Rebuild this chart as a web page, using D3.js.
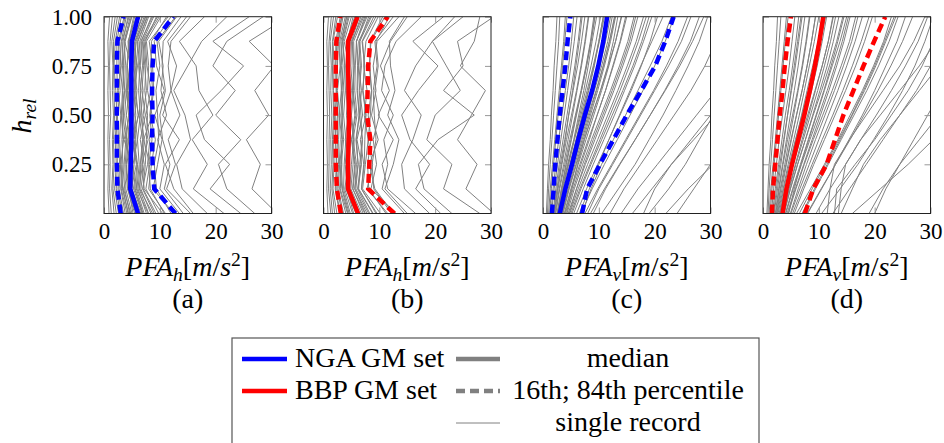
<!DOCTYPE html>
<html>
<head>
<meta charset="utf-8">
<script src="https://cdn.jsdelivr.net/npm/d3@7"></script>
<style>
  body { margin: 0; background: #fff; }
</style>
</head>
<body>
<div id="chart"></div>
<script>
// relative heights of the floors (y values of every line)
var heights = [0, 0.125, 0.25, 0.375, 0.5, 0.625, 0.75, 0.875, 1];

var xTicks = [0, 10, 20, 30];
var yTicks = [0.25, 0.5, 0.75, 1];
var panelLabels = ["(a)", "(b)", "(c)", "(d)"];
var axisSubs = ["h", "h", "v", "v"];

// (a) NGA horizontal
var medianA = [6.1, 4.7, 4.8, 4.9, 4.9, 4.9, 4.9, 5.0, 6.1];
var p16A = [3.0, 2.4, 2.3, 2.3, 2.3, 2.3, 2.3, 2.4, 3.5];
var p84A = [12.8, 9.0, 8.7, 8.6, 8.7, 8.6, 8.7, 9.0, 12.4];
var recordsA = [
  [5.5, 4.2, 4.5, 4.0, 4.4, 4.1, 4.6, 4.3, 5.8],
  [3.2, 2.5, 2.8, 2.6, 2.4, 2.9, 2.7, 2.6, 3.6],
  [7.0, 5.6, 5.2, 6.0, 5.5, 5.9, 5.3, 5.8, 7.4],
  [9.8, 7.5, 8.2, 7.1, 8.6, 7.8, 8.0, 7.6, 10.2],
  [4.4, 3.3, 3.6, 3.9, 3.4, 3.7, 3.5, 3.8, 4.9],
  [12.5, 8.8, 9.6, 10.4, 9.1, 10.8, 9.4, 9.0, 12.0],
  [6.3, 4.9, 5.8, 5.1, 6.2, 5.4, 6.0, 5.2, 6.8],
  [2.6, 1.9, 2.2, 2.0, 2.3, 2.1, 1.8, 2.0, 2.8],
  [8.4, 6.6, 7.2, 6.5, 7.4, 6.8, 7.1, 6.9, 8.9],
  [15.5, 11.2, 12.8, 11.5, 13.6, 12.0, 13.0, 11.4, 14.8],
  [5.0, 3.9, 4.1, 4.7, 4.0, 4.5, 4.2, 4.4, 5.3],
  [11.0, 8.0, 8.5, 9.2, 8.3, 8.9, 8.7, 8.1, 11.5],
  [3.8, 3.0, 3.2, 3.4, 3.1, 3.3, 2.9, 3.1, 4.0],
  [7.6, 6.1, 6.5, 6.9, 6.3, 6.6, 6.2, 6.4, 8.0],
  [21.5, 16.0, 18.5, 15.8, 19.5, 17.0, 16.5, 13.5, 18.0],
  [27.0, 22.0, 20.5, 24.5, 20.0, 23.5, 19.5, 22.0, 28.5],
  [31.0, 26.5, 28.0, 25.5, 29.5, 27.0, 30.5, 26.0, 33.0],
  [18.5, 14.0, 13.0, 15.5, 14.5, 12.5, 15.0, 17.5, 22.0],
  [10.5, 7.2, 6.8, 7.9, 7.0, 7.6, 7.3, 7.0, 9.6],
  [4.8, 3.5, 4.9, 3.6, 4.6, 3.9, 4.8, 3.7, 5.0],
  [6.8, 5.3, 4.7, 5.6, 4.9, 5.5, 5.0, 5.5, 7.2],
  [1.8, 1.4, 1.6, 1.5, 1.7, 1.5, 1.6, 1.4, 2.0],
  [13.5, 10.0, 10.8, 9.6, 11.2, 10.2, 10.6, 9.8, 13.0],
  [9.0, 6.9, 7.8, 8.2, 7.5, 8.4, 7.7, 7.4, 9.4],
  [24.5, 19.0, 22.5, 18.0, 16.5, 21.0, 25.0, 19.5, 26.0],
  [16.0, 12.5, 11.0, 13.5, 10.5, 12.0, 11.5, 12.0, 15.5],
  [0.9, 0.7, 0.8, 0.7, 0.8, 0.7, 0.8, 0.7, 1.0],
  [5.9, 4.5, 5.1, 4.3, 5.3, 4.6, 5.4, 4.7, 6.4],
  [4.1, 3.1, 3.4, 3.2, 3.5, 3.3, 3.6, 3.2, 4.5],
  [5.2, 4.4, 4.0, 4.3, 4.7, 4.2, 4.1, 4.5, 5.5],
  [6.6, 5.0, 5.4, 5.7, 5.2, 5.6, 5.5, 5.3, 6.9],
  [7.2, 5.8, 6.0, 5.4, 6.1, 5.7, 5.8, 6.1, 7.8],
  [8.0, 6.3, 6.9, 7.2, 6.6, 7.0, 6.5, 6.7, 8.5],
  [9.3, 7.0, 7.4, 7.6, 7.8, 7.3, 7.5, 7.2, 9.9],
  [3.5, 2.7, 3.0, 2.8, 3.0, 2.6, 3.1, 2.8, 3.8],
  [2.9, 2.2, 2.4, 2.3, 2.2, 2.4, 2.3, 2.3, 3.1],
  [4.6, 3.7, 3.8, 4.1, 3.7, 4.0, 3.9, 3.6, 4.7],
  [5.7, 4.3, 4.8, 4.4, 4.8, 4.3, 4.7, 4.5, 6.1],
  [6.0, 4.6, 4.4, 5.0, 4.5, 5.1, 4.6, 4.9, 6.3],
  [8.7, 6.4, 6.6, 7.0, 6.8, 6.5, 6.9, 6.6, 8.7],
  [10.8, 8.3, 8.0, 8.6, 8.2, 8.7, 8.4, 8.5, 11.2],
  [2.2, 1.6, 1.8, 1.7, 1.9, 1.8, 1.7, 1.7, 2.4],
  [1.3, 1.0, 1.1, 1.0, 1.2, 1.1, 1.0, 1.1, 1.5],
  [7.9, 5.9, 6.3, 6.0, 6.5, 6.2, 6.4, 6.0, 7.7],
  [12.0, 9.4, 9.0, 9.8, 9.6, 9.3, 10.0, 9.5, 12.8],
  [4.3, 3.4, 3.0, 3.5, 3.2, 3.6, 3.3, 3.4, 4.3],
  [14.2, 10.8, 11.8, 10.5, 10.0, 11.0, 10.4, 10.6, 13.8],
  [6.9, 5.5, 5.9, 5.2, 5.7, 5.3, 5.7, 5.6, 7.5]
];

// (b) BBP horizontal
var medianB = [6.2, 4.4, 4.4, 4.5, 4.6, 4.5, 4.4, 4.4, 6.1];
var p16B = [3.1, 2.4, 2.2, 2.2, 2.2, 2.2, 2.2, 2.3, 3.0];
var p84B = [12.7, 8.0, 8.2, 8.4, 7.8, 7.9, 8.0, 8.4, 11.5];
var recordsB = [
  [5.8, 4.0, 4.3, 4.6, 4.1, 4.4, 4.2, 4.1, 5.6],
  [3.4, 2.4, 2.7, 2.5, 2.6, 2.3, 2.5, 2.6, 3.3],
  [7.4, 5.2, 5.6, 5.0, 5.8, 5.3, 5.5, 5.1, 7.0],
  [10.2, 7.0, 7.5, 8.0, 7.3, 7.8, 7.2, 7.6, 9.8],
  [4.6, 3.4, 3.2, 3.6, 3.3, 3.5, 3.8, 3.4, 4.4],
  [13.0, 8.5, 9.5, 8.9, 10.0, 9.2, 9.8, 9.4, 11.8],
  [6.5, 4.7, 5.0, 5.4, 4.8, 5.2, 4.9, 5.0, 6.4],
  [2.4, 1.7, 1.9, 1.8, 2.0, 1.8, 1.9, 1.7, 2.5],
  [8.8, 6.2, 6.8, 6.0, 7.0, 6.5, 6.6, 6.3, 8.4],
  [16.5, 11.5, 10.5, 12.5, 9.8, 11.8, 10.2, 12.0, 15.0],
  [5.2, 3.8, 4.5, 3.9, 4.4, 4.0, 4.6, 3.7, 5.0],
  [11.5, 7.8, 8.8, 8.0, 8.4, 8.6, 8.2, 8.5, 11.0],
  [4.0, 2.9, 3.1, 3.3, 2.8, 3.2, 3.0, 2.9, 3.9],
  [19.0, 14.5, 14.0, 16.0, 17.5, 14.5, 16.5, 19.5, 25.0],
  [28.0, 21.5, 23.0, 18.5, 20.0, 24.5, 22.0, 19.5, 23.5],
  [23.0, 18.0, 17.0, 20.5, 27.0, 21.5, 25.0, 24.0, 30.5],
  [30.5, 25.5, 27.5, 24.0, 26.5, 29.0, 24.5, 27.0, 28.0],
  [12.5, 9.2, 8.2, 9.8, 8.6, 9.4, 8.9, 9.6, 13.5],
  [7.8, 5.6, 6.2, 5.8, 6.4, 6.0, 6.1, 5.9, 7.6],
  [1.6, 1.2, 1.4, 1.3, 1.5, 1.3, 1.4, 1.2, 1.8],
  [9.4, 6.8, 7.2, 6.6, 7.6, 7.0, 7.4, 6.9, 9.0],
  [14.5, 10.5, 11.5, 10.8, 12.5, 10.4, 11.0, 13.0, 17.5],
  [6.0, 4.4, 4.6, 4.8, 4.5, 4.7, 4.4, 4.6, 6.2],
  [21.0, 16.5, 19.0, 15.5, 14.0, 17.0, 20.5, 16.0, 21.5],
  [0.8, 0.6, 0.7, 0.6, 0.7, 0.6, 0.7, 0.6, 0.9],
  [3.0, 2.2, 2.4, 2.1, 2.5, 2.3, 2.2, 2.4, 3.2],
  [4.3, 3.0, 3.3, 3.1, 3.4, 3.2, 3.5, 3.1, 4.2],
  [5.4, 4.2, 3.9, 4.2, 4.5, 4.1, 4.0, 4.3, 5.3],
  [6.8, 4.9, 5.3, 5.5, 5.0, 5.4, 5.3, 5.2, 6.7],
  [7.5, 5.6, 5.9, 5.3, 6.0, 5.6, 5.7, 5.9, 7.4],
  [8.3, 6.1, 6.7, 7.0, 6.4, 6.8, 6.3, 6.5, 8.1],
  [9.6, 6.8, 7.3, 7.4, 7.6, 7.1, 7.3, 7.0, 9.4],
  [3.6, 2.6, 2.9, 2.7, 2.9, 2.5, 3.0, 2.7, 3.5],
  [2.9, 2.1, 2.3, 2.2, 2.1, 2.3, 2.2, 2.2, 3.0],
  [4.8, 3.6, 3.7, 4.0, 3.6, 3.9, 3.8, 3.5, 4.6],
  [5.9, 4.2, 4.7, 4.3, 4.7, 4.2, 4.6, 4.4, 5.8],
  [6.2, 4.5, 4.3, 4.9, 4.4, 5.0, 4.5, 4.8, 6.0],
  [8.9, 6.3, 6.5, 6.9, 6.7, 6.4, 6.8, 6.5, 8.6],
  [11.2, 8.1, 7.9, 8.5, 8.0, 8.6, 8.3, 8.4, 10.6],
  [2.0, 1.5, 1.7, 1.6, 1.8, 1.7, 1.6, 1.6, 2.2],
  [1.3, 0.9, 1.0, 1.0, 1.1, 1.0, 0.9, 1.0, 1.4],
  [8.1, 5.8, 6.2, 5.9, 6.4, 6.1, 6.3, 5.9, 7.8],
  [12.2, 9.0, 8.7, 9.4, 9.1, 8.9, 9.6, 9.2, 12.5],
  [4.4, 3.3, 2.9, 3.4, 3.1, 3.5, 3.2, 3.3, 4.1],
  [15.0, 11.0, 12.5, 13.5, 11.5, 12.8, 12.0, 11.8, 14.5],
  [7.1, 5.3, 5.7, 5.1, 5.6, 5.2, 5.5, 5.4, 7.2]
];

// (c) NGA vertical
var medianC = [3.0, 4.0, 5.2, 6.3, 7.5, 8.8, 9.9, 10.8, 11.5];
var p16C = [1.6, 1.9, 2.2, 2.6, 3.0, 3.5, 4.0, 4.4, 4.9];
var p84C = [7.0, 7.9, 10.2, 12.6, 15.0, 17.6, 20.1, 21.9, 23.4];
var recordsC = [
  [2.0, 2.6, 3.3, 4.0, 4.6, 5.3, 5.9, 6.5, 7.0],
  [3.0, 3.9, 5.0, 6.0, 7.1, 8.2, 9.2, 10.0, 10.8],
  [1.2, 1.5, 1.9, 2.3, 2.7, 3.1, 3.5, 3.9, 4.3],
  [4.0, 5.4, 6.8, 8.3, 9.7, 11.2, 12.5, 13.8, 14.8],
  [2.5, 3.3, 4.2, 5.1, 6.0, 6.9, 7.8, 8.6, 9.3],
  [5.5, 7.2, 9.0, 10.9, 12.8, 14.6, 16.4, 18.0, 19.5],
  [1.5, 2.0, 2.6, 3.2, 3.8, 4.4, 5.0, 5.6, 6.1],
  [3.5, 4.6, 5.9, 7.2, 8.5, 9.8, 11.0, 12.1, 13.0],
  [7.0, 8.6, 10.5, 12.6, 14.8, 17.0, 19.2, 21.3, 23.0],
  [2.8, 3.6, 4.6, 5.6, 6.6, 7.6, 8.6, 9.5, 10.3],
  [4.5, 6.0, 7.6, 9.3, 11.0, 12.7, 14.3, 15.8, 17.0],
  [0.8, 1.0, 1.3, 1.6, 1.9, 2.2, 2.5, 2.8, 3.0],
  [6.0, 7.8, 9.8, 11.8, 13.8, 15.8, 17.6, 19.2, 20.5],
  [3.8, 5.0, 6.3, 7.7, 9.1, 10.5, 11.8, 13.0, 14.0],
  [2.2, 2.9, 3.7, 4.5, 5.3, 6.1, 6.9, 7.6, 8.2],
  [9.0, 11.2, 13.8, 16.5, 19.2, 21.8, 24.2, 26.4, 28.0],
  [12.0, 14.5, 17.5, 20.5, 23.5, 26.5, 29.0, 31.0, 32.5],
  [16.0, 19.5, 23.0, 27.0, 31.0, 35.0, 38.0, 40.0, 42.0],
  [22.0, 26.0, 30.5, 35.0, 39.0, 43.0, 46.0, 48.0, 50.0],
  [19.0, 22.5, 25.5, 28.0, 30.5, 33.0, 35.5, 37.5, 39.0],
  [8.0, 10.0, 12.5, 15.0, 17.5, 20.0, 22.5, 24.8, 26.5],
  [4.8, 6.3, 8.0, 9.8, 11.6, 13.4, 15.1, 16.7, 18.0],
  [3.2, 4.2, 5.4, 6.6, 7.8, 9.0, 10.2, 11.2, 12.1],
  [5.0, 6.6, 8.4, 10.2, 12.0, 13.8, 15.5, 17.1, 18.5],
  [10.5, 13.5, 16.5, 19.0, 21.5, 23.8, 26.0, 28.0, 29.5],
  [1.0, 1.3, 1.7, 2.1, 2.5, 2.9, 3.3, 3.7, 4.0],
  [6.5, 8.3, 10.0, 11.8, 13.7, 15.6, 17.5, 19.5, 21.5],
  [2.6, 3.4, 4.4, 5.5, 6.4, 7.3, 8.1, 8.8, 9.6],
  [4.2, 5.2, 6.2, 7.4, 8.8, 10.3, 11.6, 12.6, 13.4],
  [14.0, 17.0, 20.5, 24.0, 27.5, 31.0, 34.0, 36.5, 38.5],
  [1.8, 2.3, 2.9, 3.6, 4.3, 5.0, 5.7, 6.3, 6.8],
  [2.3, 3.0, 3.9, 4.8, 5.8, 6.8, 7.7, 8.5, 9.1],
  [2.7, 3.5, 4.5, 5.6, 6.8, 7.9, 9.0, 10.0, 10.8],
  [3.1, 4.1, 5.3, 6.6, 7.9, 9.2, 10.5, 11.6, 12.4],
  [3.4, 4.5, 5.7, 7.0, 8.3, 9.6, 10.8, 11.9, 12.8],
  [3.9, 5.1, 6.6, 8.1, 9.7, 11.2, 12.6, 13.9, 15.0],
  [4.3, 5.6, 7.1, 8.7, 10.4, 12.1, 13.7, 15.2, 16.3],
  [2.1, 2.7, 3.4, 4.2, 5.1, 6.0, 6.8, 7.5, 8.1],
  [1.4, 1.8, 2.3, 2.8, 3.4, 4.0, 4.6, 5.1, 5.5],
  [5.2, 6.8, 8.6, 10.5, 12.4, 14.3, 16.1, 17.7, 19.0],
  [2.9, 3.8, 4.8, 5.9, 7.0, 8.1, 9.1, 10.1, 11.0],
  [3.6, 4.7, 6.0, 7.4, 8.8, 10.3, 11.7, 13.0, 14.1],
  [4.7, 6.0, 7.4, 9.0, 10.7, 12.4, 14.0, 15.5, 16.6],
  [6.8, 8.8, 11.0, 13.3, 15.6, 17.9, 20.0, 21.9, 23.5],
  [7.5, 9.8, 12.3, 14.8, 17.3, 19.8, 22.1, 24.2, 25.9],
  [1.9, 2.5, 3.1, 3.9, 4.6, 5.4, 6.2, 6.9, 7.5],
  [2.6, 3.3, 4.1, 5.0, 5.9, 6.9, 7.8, 8.6, 9.3],
  [3.3, 4.3, 5.5, 6.8, 8.1, 9.5, 10.8, 11.9, 12.9],
  [0.6, 0.8, 1.0, 1.3, 1.5, 1.8, 2.0, 2.3, 2.5],
  [8.5, 11.0, 13.7, 16.5, 19.2, 21.9, 24.5, 26.8, 28.8],
  [18.0, 20.0, 23.0, 26.5, 30.0, 33.5, 36.5, 39.0, 41.0],
  [24.0, 27.0, 30.0, 33.0, 36.0, 39.0, 42.0, 44.0, 46.0]
];

// (d) BBP vertical
var medianD = [3.5, 4.2, 5.2, 6.3, 7.4, 8.4, 9.3, 10.1, 10.8];
var p16D = [1.6, 1.8, 2.2, 2.6, 3.0, 3.5, 3.9, 4.4, 5.0];
var p84D = [7.5, 9.0, 11.4, 12.9, 14.4, 16.2, 18.0, 19.9, 21.9];
var recordsD = [
  [2.2, 2.8, 3.5, 4.2, 4.9, 5.6, 6.3, 6.9, 7.5],
  [3.3, 4.3, 5.4, 6.5, 7.6, 8.7, 9.7, 10.6, 11.4],
  [1.3, 1.6, 2.0, 2.4, 2.8, 3.2, 3.6, 4.0, 4.5],
  [4.3, 5.8, 7.3, 8.8, 10.3, 11.8, 13.2, 14.5, 15.6],
  [2.7, 3.6, 4.5, 5.5, 6.5, 7.4, 8.3, 9.2, 10.0],
  [6.0, 8.5, 11.0, 13.4, 15.6, 17.8, 19.8, 21.6, 23.0],
  [1.7, 2.2, 2.8, 3.4, 4.0, 4.7, 5.3, 5.9, 6.4],
  [3.7, 4.9, 6.2, 7.6, 8.9, 10.2, 11.5, 12.6, 13.6],
  [8.0, 10.5, 13.0, 15.4, 17.8, 20.0, 22.0, 24.0, 25.5],
  [3.0, 3.9, 4.9, 5.9, 6.9, 7.9, 8.9, 9.9, 10.7],
  [5.0, 6.6, 8.3, 10.0, 11.7, 13.4, 15.0, 16.5, 17.8],
  [0.9, 1.1, 1.4, 1.7, 2.0, 2.3, 2.6, 2.9, 3.2],
  [7.0, 9.2, 11.5, 13.8, 16.0, 18.2, 20.2, 22.0, 23.8],
  [4.0, 5.3, 6.7, 8.1, 9.5, 10.9, 12.2, 13.4, 14.5],
  [2.4, 3.1, 3.9, 4.7, 5.5, 6.3, 7.1, 7.8, 8.4],
  [12.5, 15.5, 18.5, 21.5, 24.5, 27.5, 30.0, 32.5, 34.5],
  [14.0, 16.0, 18.0, 21.0, 24.5, 28.0, 31.5, 34.0, 36.0],
  [20.0, 22.0, 24.5, 27.0, 29.5, 32.0, 34.5, 36.5, 38.0],
  [9.5, 12.0, 14.8, 17.5, 20.3, 23.0, 25.5, 27.8, 29.5],
  [16.0, 21.0, 26.0, 30.5, 34.0, 37.0, 40.0, 42.0, 44.0],
  [5.3, 7.0, 8.8, 10.6, 12.5, 14.3, 16.0, 17.6, 19.0],
  [3.5, 4.6, 5.8, 7.0, 8.2, 9.4, 10.6, 11.7, 12.6],
  [6.5, 8.8, 11.2, 13.6, 15.9, 18.0, 20.0, 21.8, 23.5],
  [10.5, 13.8, 17.0, 19.8, 22.5, 25.0, 27.2, 29.0, 30.5],
  [1.1, 1.4, 1.8, 2.2, 2.6, 3.0, 3.4, 3.8, 4.2],
  [12.8, 13.2, 16.5, 20.0, 23.0, 26.0, 28.5, 30.5, 32.0],
  [4.6, 5.6, 6.8, 8.2, 9.6, 11.0, 12.4, 13.8, 15.0],
  [2.0, 2.6, 3.2, 3.8, 4.4, 5.0, 5.6, 6.2, 6.8],
  [1.9, 2.4, 3.0, 3.7, 4.4, 5.1, 5.8, 6.4, 7.0],
  [2.5, 3.2, 4.1, 5.0, 6.0, 7.0, 7.9, 8.7, 9.4],
  [2.9, 3.7, 4.7, 5.8, 7.0, 8.1, 9.2, 10.2, 11.0],
  [3.2, 4.2, 5.4, 6.7, 8.0, 9.3, 10.6, 11.7, 12.5],
  [3.6, 4.7, 5.9, 7.2, 8.5, 9.8, 11.0, 12.1, 13.0],
  [4.1, 5.4, 6.9, 8.4, 10.0, 11.5, 12.9, 14.2, 15.3],
  [4.5, 5.9, 7.4, 9.0, 10.7, 12.4, 14.0, 15.5, 16.6],
  [2.3, 2.9, 3.6, 4.4, 5.3, 6.2, 7.0, 7.7, 8.3],
  [1.5, 1.9, 2.4, 2.9, 3.5, 4.1, 4.7, 5.2, 5.7],
  [5.6, 7.3, 9.1, 11.0, 12.9, 14.8, 16.6, 18.2, 19.6],
  [3.1, 4.0, 5.0, 6.1, 7.2, 8.3, 9.3, 10.3, 11.2],
  [3.8, 4.9, 6.2, 7.6, 9.0, 10.5, 11.9, 13.2, 14.3],
  [4.9, 6.3, 7.8, 9.4, 11.1, 12.8, 14.4, 15.9, 17.0],
  [7.2, 9.4, 11.7, 14.0, 16.3, 18.6, 20.7, 22.6, 24.2],
  [7.9, 10.4, 13.0, 15.6, 18.1, 20.6, 22.9, 25.0, 26.8],
  [2.6, 3.4, 4.2, 5.1, 6.0, 7.0, 7.9, 8.7, 9.4],
  [0.7, 0.9, 1.1, 1.4, 1.6, 1.9, 2.1, 2.4, 2.6],
  [11.5, 12.0, 12.8, 15.5, 18.5, 21.5, 24.5, 27.0, 29.0],
  [13.5, 14.0, 14.8, 17.5, 21.0, 24.5, 28.0, 31.0, 33.5],
  [19.0, 21.5, 24.5, 28.0, 31.5, 35.0, 38.0, 40.5, 42.5]
];

var legendSets = ["NGA GM set", "BBP GM set"];
var legendStats = ["median", "16th; 84th percentile", "single record"];

var width = 944, height = 443;
var panelLeft = [104, 323.5, 543, 763];
var panelW = 167.5;
var plotTop = 16.7, plotBottom = 213.5;
var gray = "#808080", blue = "#0000ff", red = "#ff0000";
var serif = 'Liberation Serif';

var panels = [
  { rec: recordsA, med: medianA, p16: p16A, p84: p84A, color: blue },
  { rec: recordsB, med: medianB, p16: p16B, p84: p84B, color: red },
  { rec: recordsC, med: medianC, p16: p16C, p84: p84C, color: blue },
  { rec: recordsD, med: medianD, p16: p16D, p84: p84D, color: red }
];

var svg = d3.select('#chart')
  .append('svg')
  .attr('width', width)
  .attr('height', height)
  .attr('font-family', serif)

var y = d3.scaleLinear().domain([0, 1]).range([plotBottom, plotTop]);

// write a mixed roman/italic label with sub/superscripts
function richText(sel, parts, size) {
  var shift = 0;
  parts.forEach(function (p) {
    var s = p[2] || 0;
    sel.append('tspan')
      .text(p[0])
      .attr('font-family', serif)
      .attr('font-style', p[1] ? 'italic' : 'normal')
      .attr('font-size', s ? size * 0.7 : size)
      .attr('dy', s - shift);
    shift = s;
  });
}

panels.forEach(function (p, k) {
  var x0 = panelLeft[k];
  var x = d3.scaleLinear().domain([0, 30]).range([x0, x0 + panelW]);
  var g = svg.append('g');

  g.append('clipPath').attr('id', 'clip' + k)
    .append('rect')
    .attr('x', x0).attr('y', plotTop)
    .attr('width', panelW).attr('height', plotBottom - plotTop);

  var line = d3.line()
    .x(d => x(d[0]))
    .y(d => y(d[1]));
  var pts = arr => arr.map((v, i) => [v, heights[i]]);

  var plot = g.append('g').attr('clip-path', 'url(#clip' + k + ')');

  plot.selectAll('path.rec')
    .data(p.rec)
    .join('path')
    .attr('class', 'rec')
    .attr('d', d => line(pts(d)))
    .attr('fill', 'none')
    .attr('stroke', gray)
    .attr('stroke-width', 1);

  [p.p16, p.p84].forEach(function (arr) {
    plot.append('path')
      .attr('d', line(pts(arr)))
      .attr('fill', 'none')
      .attr('stroke', p.color)
      .attr('stroke-width', 4.5)
      .attr('stroke-dasharray', '9,5');
  });
  plot.append('path')
    .attr('d', line(pts(p.med)))
    .attr('fill', 'none')
    .attr('stroke', p.color)
    .attr('stroke-width', 4.5);

  // axes, ticks pointing inwards on all four sides
  g.append('g').attr('transform', 'translate(0,' + plotBottom + ')')
    .call(d3.axisBottom(x).tickValues(xTicks).tickSize(-6).tickPadding(9));
  g.append('g').attr('transform', 'translate(0,' + plotTop + ')')
    .call(d3.axisTop(x).tickValues(xTicks).tickSize(-6).tickFormat(''));
  var ay = g.append('g').attr('transform', 'translate(' + x0 + ',0)')
    .call(d3.axisLeft(y).tickValues(yTicks).tickSize(-6).tickPadding(12)
      .tickFormat(d3.format('.2f')));
  g.append('g').attr('transform', 'translate(' + (x0 + panelW) + ',0)')
    .call(d3.axisRight(y).tickValues(yTicks).tickSize(-6).tickFormat(''));
  if (k > 0) ay.selectAll('text').remove();

  g.selectAll('.domain').remove();
  g.selectAll('.tick line').attr('stroke', '#999');
  g.selectAll('.tick text')
    .attr('font-family', serif)
    .attr('font-size', 23)
    .attr('fill', '#000');

  g.append('rect')
    .attr('x', x0).attr('y', plotTop)
    .attr('width', panelW).attr('height', plotBottom - plotTop)
    .attr('fill', 'none')
    .attr('stroke', '#222')
    .attr('stroke-width', 1);

  var cx = x0 + panelW / 2;
  var title = g.append('text')
    .attr('x', cx).attr('y', 276)
    .attr('text-anchor', 'middle');
  richText(title, [['PFA', 1], [axisSubs[k], 1, 5], ['[', 0], ['m', 1], ['/', 0], ['s', 1], ['2', 0, -10], [']', 0]], 28);

  g.append('text')
    .attr('x', cx).attr('y', 308)
    .attr('text-anchor', 'middle')
    .attr('font-family', serif)
    .attr('font-size', 28)
    .text(panelLabels[k]);
});

var yl = svg.append('text')
  .attr('transform', 'translate(31,116) rotate(-90)')
  .attr('text-anchor', 'middle');
richText(yl, [['h', 1], ['rel', 1, 5]], 28);

// legend
var lg = svg.append('g');
lg.append('rect')
  .attr('x', 232).attr('y', 338)
  .attr('width', 527).attr('height', 130)
  .attr('fill', 'none')
  .attr('stroke', '#555')
  .attr('stroke-width', 1.2);

var rowY = d3.scalePoint().domain([0, 1, 2]).range([359, 423]);

legendSets.forEach(function (s, i) {
  lg.append('line')
    .attr('x1', 242).attr('x2', 287)
    .attr('y1', rowY(i)).attr('y2', rowY(i))
    .attr('stroke', i === 0 ? blue : red)
    .attr('stroke-width', 4.5);
  lg.append('text')
    .attr('x', 295).attr('y', rowY(i) + 8)
    .attr('font-family', serif)
    .attr('font-size', 28)
    .text(s);
});

legendStats.forEach(function (s, i) {
  lg.append('line')
    .attr('x1', 456).attr('x2', 500)
    .attr('y1', rowY(i)).attr('y2', rowY(i))
    .attr('stroke', gray)
    .attr('stroke-width', i === 2 ? 1 : 4.5)
    .attr('stroke-dasharray', i === 1 ? '9,5' : null);
  lg.append('text')
    .attr('x', 628).attr('y', rowY(i) + 8)
    .attr('text-anchor', 'middle')
    .attr('font-family', serif)
    .attr('font-size', 28)
    .text(s);
});
</script>
</body>
</html>
